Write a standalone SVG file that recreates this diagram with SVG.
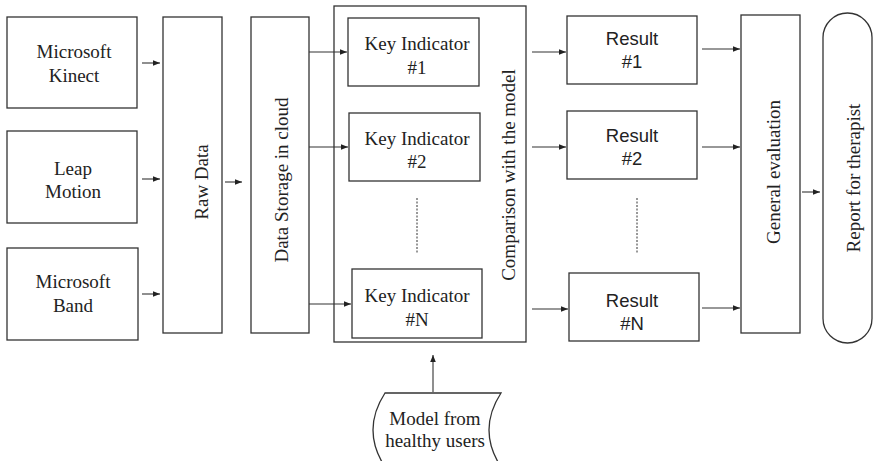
<svg xmlns="http://www.w3.org/2000/svg" width="874" height="461" viewBox="0 0 874 461">
  <style>
    .box { fill: #fff; stroke: #333; stroke-width: 1.3; }
    .serif { font-family: "Liberation Serif", "Times New Roman", serif; font-size: 19px; fill: #222; }
    .sans { font-family: "Liberation Sans", Arial, sans-serif; font-size: 18.5px; fill: #222; }
    .mid { text-anchor: middle; }
    .link { stroke: #333; stroke-width: 1.1; fill: none; marker-end: url(#arrow); }
    .dots { stroke: #333; stroke-width: 1; stroke-dasharray: 2 1.5; fill: none; }
  </style>
  <defs>
    <marker id="arrow" markerUnits="userSpaceOnUse" markerWidth="8" markerHeight="8" viewBox="0 0 8 8" refX="7" refY="4" orient="auto">
      <path d="M0,1.2 L7,4 L0,6.8 Z" fill="#222"/>
    </marker>
  </defs>

  <rect width="874" height="461" fill="#fff"/>

  <!-- sensors -->
  <g id="kinect">
    <rect class="box" x="7" y="17" width="130" height="91"/>
    <text class="serif mid" x="74" y="58">Microsoft</text>
    <text class="serif mid" x="74" y="82">Kinect</text>
  </g>
  <g id="leap">
    <rect class="box" x="7" y="131" width="130" height="92"/>
    <text class="serif mid" x="73" y="175">Leap</text>
    <text class="serif mid" x="73" y="198">Motion</text>
  </g>
  <g id="band">
    <rect class="box" x="7" y="248" width="131" height="92"/>
    <text class="serif mid" x="73" y="288">Microsoft</text>
    <text class="serif mid" x="73" y="312">Band</text>
  </g>

  <!-- data stages -->
  <g id="raw-data">
    <rect class="box" x="163" y="17" width="59" height="316"/>
    <text class="serif mid" transform="translate(208,182) rotate(-90)">Raw Data</text>
  </g>
  <g id="storage">
    <rect class="box" x="251" y="17" width="58" height="316"/>
    <text class="serif mid" transform="translate(288,180) rotate(-90)">Data Storage in cloud</text>
  </g>

  <!-- comparison block with key indicators -->
  <g id="comparison">
    <rect class="box" x="334" y="6" width="192" height="336"/>
    <text class="serif mid" transform="translate(515,175) rotate(-90)">Comparison with the model</text>
  </g>
  <g id="ki-1">
    <rect class="box" x="348" y="18" width="131" height="68"/>
    <text class="serif mid" x="417" y="50">Key Indicator</text>
    <text class="serif mid" x="417" y="74">#1</text>
  </g>
  <g id="ki-2">
    <rect class="box" x="349" y="113" width="131" height="68"/>
    <text class="serif mid" x="417" y="145">Key Indicator</text>
    <text class="serif mid" x="417" y="168">#2</text>
  </g>
  <g id="ki-n">
    <rect class="box" x="352" y="269" width="130" height="69"/>
    <text class="serif mid" x="417" y="302">Key Indicator</text>
    <text class="serif mid" x="417" y="326">#N</text>
  </g>

  <!-- results -->
  <g id="result-1">
    <rect class="box" x="567" y="16" width="130" height="68"/>
    <text class="sans mid" x="632" y="45">Result</text>
    <text class="sans mid" x="632" y="68">#1</text>
  </g>
  <g id="result-2">
    <rect class="box" x="567" y="111" width="130" height="68"/>
    <text class="sans mid" x="632" y="142">Result</text>
    <text class="sans mid" x="632" y="165">#2</text>
  </g>
  <g id="result-n">
    <rect class="box" x="569" y="273" width="130" height="68"/>
    <text class="sans mid" x="632" y="307">Result</text>
    <text class="sans mid" x="632" y="330">#N</text>
  </g>

  <g id="evaluation">
    <rect class="box" x="741" y="15" width="59" height="318"/>
    <text class="serif mid" transform="translate(780,172) rotate(-90)">General evaluation</text>
  </g>
  <g id="report">
    <rect class="box" x="823" y="13" width="49" height="330" rx="24.5" ry="24.5"/>
    <text class="serif mid" transform="translate(860,178) rotate(-90)">Report for therapist</text>
  </g>

  <g id="model">
    <path class="box" d="M385,393 L501,393 Q477,430 501,467 L385,467 Q361,430 385,393 Z"/>
    <text class="serif mid" x="435" y="425">Model from</text>
    <text class="serif mid" x="435" y="447">healthy users</text>
  </g>

  <!-- connectors -->
  <g id="connectors">
    <path class="link" d="M142,63 H160"/>
    <path class="link" d="M142,179 H160"/>
    <path class="link" d="M142,294 H160"/>
    <path class="link" d="M225,182 H242"/>
    <path class="link" d="M309,52 H347"/>
    <path class="link" d="M309,147 H348"/>
    <path class="link" d="M309,304 H351"/>
    <path class="link" d="M532,52 H566"/>
    <path class="link" d="M532,147 H566"/>
    <path class="link" d="M532,309 H568"/>
    <path class="link" d="M702,49 H740"/>
    <path class="link" d="M702,147 H740"/>
    <path class="link" d="M702,308 H740"/>
    <path class="link" d="M802,192 H820"/>
    <path class="link" d="M433,392 V355"/>
    <path class="dots" d="M417,198 V254"/>
    <path class="dots" d="M637,198 V254"/>
  </g>
</svg>
